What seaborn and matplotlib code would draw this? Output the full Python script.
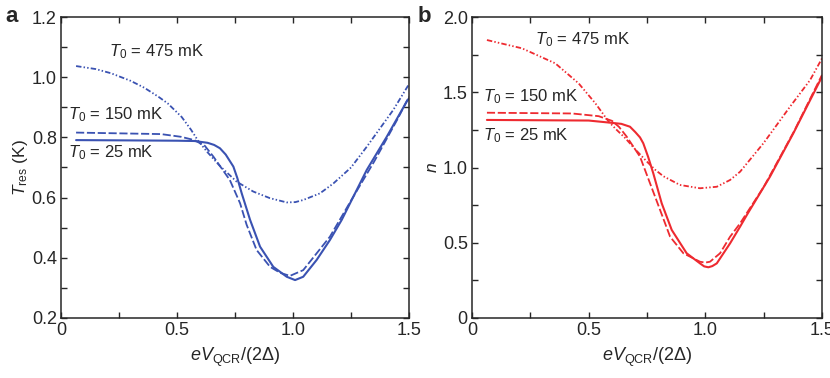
import numpy as np
import pandas as pd
import seaborn as sns
import matplotlib
matplotlib.use("Agg")
import matplotlib.pyplot as plt
from matplotlib.ticker import MultipleLocator

# panel a: T_res (K) vs eV/(2Delta)
a25_x = [0.065, 0.3, 0.5, 0.575, 0.632, 0.66, 0.685, 0.71, 0.743, 0.76, 0.779, 0.815, 0.858, 0.915, 0.973, 1.009, 1.044, 1.102, 1.159, 1.21, 1.318, 1.404, 1.49, 1.5]
a25_y = [0.791, 0.790, 0.789, 0.788, 0.782, 0.775, 0.764, 0.743, 0.703, 0.665, 0.614, 0.526, 0.437, 0.370, 0.337, 0.326, 0.337, 0.393, 0.459, 0.526, 0.692, 0.802, 0.919, 0.930]
a150_x = [0.065, 0.431, 0.517, 0.575, 0.62, 0.657, 0.728, 0.772, 0.80, 0.843, 0.901, 0.945, 0.987, 1.044, 1.102, 1.159, 1.25, 1.35, 1.45, 1.5]
a150_y = [0.816, 0.811, 0.802, 0.791, 0.772, 0.736, 0.658, 0.581, 0.51, 0.426, 0.370, 0.350, 0.340, 0.359, 0.415, 0.470, 0.59, 0.72, 0.86, 0.935]
a475_x = [0.065, 0.15, 0.216, 0.3, 0.359, 0.42, 0.46, 0.52, 0.56, 0.59, 0.63, 0.685, 0.757, 0.829, 0.901, 0.973, 1.01, 1.044, 1.116, 1.174, 1.25, 1.318, 1.432, 1.5]
a475_y = [1.037, 1.027, 1.013, 0.988, 0.965, 0.935, 0.913, 0.868, 0.826, 0.790, 0.752, 0.705, 0.653, 0.620, 0.598, 0.584, 0.585, 0.592, 0.614, 0.647, 0.70, 0.769, 0.891, 0.977]

# panel b: n vs eV/(2Delta)
b25_x = [0.064, 0.5, 0.591, 0.64, 0.677, 0.70, 0.72, 0.734, 0.755, 0.777, 0.813, 0.856, 0.92, 0.977, 0.995, 1.013, 1.03, 1.049, 1.106, 1.149, 1.18, 1.277, 1.377, 1.5]
b25_y = [1.316, 1.312, 1.298, 1.290, 1.271, 1.235, 1.20, 1.161, 1.07, 0.961, 0.762, 0.585, 0.43, 0.363, 0.343, 0.337, 0.345, 0.363, 0.496, 0.607, 0.69, 0.939, 1.227, 1.603]
b150_x = [0.064, 0.429, 0.543, 0.6, 0.63, 0.663, 0.72, 0.763, 0.806, 0.849, 0.906, 0.977, 1.0, 1.02, 1.063, 1.106, 1.149, 1.25, 1.38, 1.5]
b150_y = [1.364, 1.359, 1.341, 1.31, 1.27, 1.205, 1.072, 0.895, 0.718, 0.54, 0.43, 0.374, 0.368, 0.374, 0.43, 0.54, 0.629, 0.87, 1.24, 1.615]
b475_x = [0.064, 0.214, 0.357, 0.457, 0.529, 0.586, 0.62, 0.657, 0.70, 0.749, 0.785, 0.82, 0.891, 0.977, 1.049, 1.106, 1.149, 1.249, 1.363, 1.449, 1.5]
b475_y = [1.847, 1.792, 1.692, 1.559, 1.426, 1.304, 1.250, 1.195, 1.12, 1.040, 0.985, 0.942, 0.884, 0.862, 0.872, 0.917, 0.972, 1.161, 1.404, 1.581, 1.725]

sns.set_style("ticks")
plt.rcParams["font.family"] = ["Liberation Sans", "DejaVu Sans"]
plt.rcParams["mathtext.fontset"] = "custom"
plt.rcParams["mathtext.rm"] = "Liberation Sans"
plt.rcParams["mathtext.it"] = "Liberation Sans:italic"
plt.rcParams["font.size"] = 12

styles = ["-", (0, (4.5, 1.5)), (0, (3, 1.2, 0.8, 1.2, 0.8, 1.2))]
widths = [1.5, 1.3, 1.3]

fig = plt.figure(figsize=(8.3, 3.78), dpi=100)
ax_a = fig.add_axes([61 / 830, 1 - 318 / 378, 348 / 830, 301 / 378])
ax_b = fig.add_axes([472 / 830, 1 - 318 / 378, 350 / 830, 301 / 378])


def draw(ax, xs, ys, color):
    for x, y, ls, lw in zip(xs, ys, styles, widths):
        sns.lineplot(x=x, y=y, ax=ax, color=color, linestyle=ls, linewidth=lw, sort=False, estimator=None)


draw(ax_a, [a25_x, a150_x, a475_x], [a25_y, a150_y, a475_y], "#3a52b2")
draw(ax_b, [b25_x, b150_x, b475_x], [b25_y, b150_y, b475_y], "#ee2a30")

ax_a.set_xlim(0, 1.5)
ax_a.set_ylim(0.2, 1.2)
ax_a.set_yticks([0.2, 0.4, 0.6, 0.8, 1.0, 1.2], ["0.2", "0.4", "0.6", "0.8", "1.0", "1.2"])
ax_a.yaxis.set_minor_locator(MultipleLocator(0.1))
ax_a.set_ylabel("$T_\\mathrm{res}$ (K)", labelpad=1, fontsize=12.5)

ax_b.set_xlim(0, 1.5)
ax_b.set_ylim(0, 2.0)
ax_b.set_yticks([0, 0.5, 1.0, 1.5, 2.0], ["0", "0.5", "1.0", "1.5", "2.0"])
ax_b.yaxis.set_minor_locator(MultipleLocator(0.25))
ax_b.set_ylabel("$n$", labelpad=2, fontsize=12.5)

for ax in (ax_a, ax_b):
    ax.set_xticks([0, 0.5, 1.0, 1.5], ["0", "0.5", "1.0", "1.5"])
    ax.xaxis.set_minor_locator(MultipleLocator(0.25))
    ax.set_xlabel("$eV_\\mathrm{QCR}$/(2Δ)", labelpad=5, fontsize=13)
    ax.tick_params(which="both", direction="in", top=True, right=True, width=1.0, labelsize=13, pad=3)
    ax.tick_params(which="major", length=4.5)
    ax.tick_params(which="minor", length=4.5)
    for s in ax.spines.values():
        s.set_linewidth(1.1)
        s.set_visible(True)

ax_a.text(0.207, 1.084, "$T_\\mathrm{0}$ = 475 mK", va="center", ha="left")
ax_a.text(0.03, 0.874, "$T_\\mathrm{0}$ = 150 mK", va="center", ha="left")
ax_a.text(0.03, 0.748, "$T_\\mathrm{0}$ = 25 mK", va="center", ha="left")

ax_b.text(0.27, 1.847, "$T_\\mathrm{0}$ = 475 mK", va="center", ha="left")
ax_b.text(0.047, 1.468, "$T_\\mathrm{0}$ = 150 mK", va="center", ha="left")
ax_b.text(0.047, 1.21, "$T_\\mathrm{0}$ = 25 mK", va="center", ha="left")

fig.text(5 / 830, 1 - 16 / 378, "a", fontsize=16, fontweight="bold", va="center")
fig.text(418 / 830, 1 - 16 / 378, "b", fontsize=16, fontweight="bold", va="center")

fig.savefig("out.png", dpi=100)
